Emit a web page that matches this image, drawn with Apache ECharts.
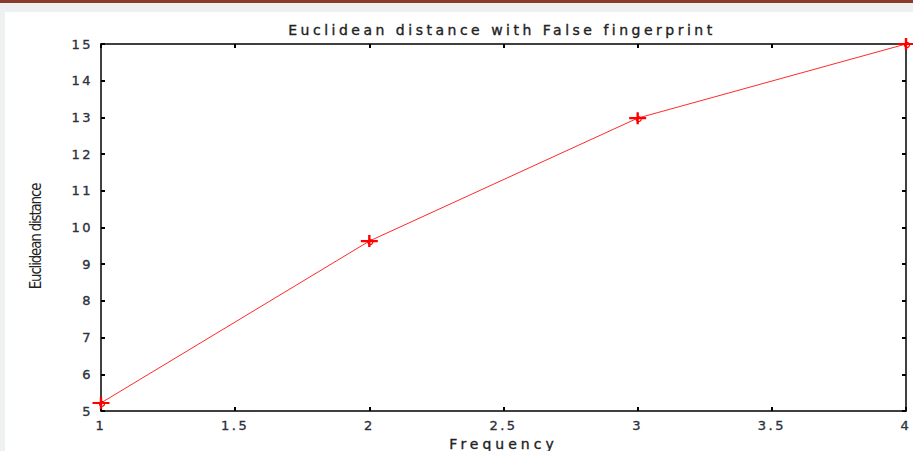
<!DOCTYPE html>
<html>
<head>
<meta charset="utf-8">
<script src="https://cdn.jsdelivr.net/npm/echarts@6/dist/echarts.min.js"></script>
<style>
  html, body { margin: 0; padding: 0; }
  body { width: 913px; height: 451px; background: #eff0f2; position: relative; overflow: hidden; }
  #strip { position: absolute; left: 0; top: 0; width: 913px; height: 3px; background: #8a3b2b; }
  #panel { position: absolute; left: 5px; top: 12px; width: 908px; height: 439px; background: #fff; }
  #chart { position: absolute; left: 0; top: 0; width: 913px; height: 451px; }
</style>
</head>
<body>
<div id="strip"></div>
<div id="panel"></div>
<div id="chart"></div>
<script>
// values
const frequency = [1, 2, 3, 4];
const distance = [5.22, 9.63, 12.98, 15];
const titleText = 'Euclidean distance with False fingerprint';
const xName = 'Frequency';
const yName = 'Euclidean distance';

const points = frequency.map((f, i) => [f, distance[i]]);

const chart = echarts.init(document.getElementById('chart'), null, { renderer: 'svg' });

const sans = 'DejaVu Sans, Liberation Sans, sans-serif';
const tickLabel = { color: '#2d313c', fontSize: 13, fontFamily: sans };
const frame = { show: true, lineStyle: { color: '#000', width: 1.5 } };
const innerTick = { show: true, inside: true, length: 4, lineStyle: { color: '#000', width: 2 } };

const option = {
    backgroundColor: 'transparent',
    animation: false,
    title: {
        text: titleText,
        left: 497,
        textAlign: 'center',
        top: 18,
        textStyle: { color: '#222', fontSize: 14, fontWeight: 'normal', fontFamily: sans }
    },
    grid: { left: 101, right: 7, top: 44, bottom: 40, outerBoundsMode: 'none', containLabel: false },
    xAxis: [
        {
            type: 'value', min: 1, max: 4, interval: 0.5,
            name: xName, nameLocation: 'middle', nameGap: 24,
            nameTextStyle: { color: '#222', fontSize: 14, fontFamily: sans },
            axisLine: frame, axisTick: innerTick, splitLine: { show: false },
            axisLabel: Object.assign({ margin: 8 }, tickLabel)
        },
        {
            type: 'value', position: 'top', min: 1, max: 4, interval: 0.5,
            axisLine: frame, axisTick: innerTick, splitLine: { show: false },
            axisLabel: { show: false }
        }
    ],
    yAxis: [
        {
            type: 'value', min: 5, max: 15, interval: 1,
            name: yName, nameLocation: 'middle', nameGap: 58, nameRotate: 90,
            nameTextStyle: {
                color: '#222', fontSize: 15, padding: [0, 18, 0, 0],
                fontFamily: 'DejaVu Sans Condensed, Liberation Sans, sans-serif'
            },
            axisLabel: Object.assign({ margin: 8 }, tickLabel),
            axisLine: frame, axisTick: innerTick, splitLine: { show: false }
        },
        {
            type: 'value', position: 'right', min: 5, max: 15, interval: 1,
            axisLine: frame, axisTick: innerTick, splitLine: { show: false },
            axisLabel: { show: false }
        }
    ],
    series: [
        {
            type: 'line',
            data: points,
            lineStyle: { color: '#ff2a2a', width: 1 },
            symbol: 'none',
            z: 2
        },
        {
            type: 'scatter',
            data: points,
            symbol: 'path://M0 8.6H20V11.4H0Z M8.6 2H11.4V18H8.6Z',
            symbolSize: [17, 12],
            itemStyle: { color: '#ff0000', opacity: 1 },
            z: 3
        },
        {
            type: 'scatter',
            data: points,
            symbol: 'circle',
            symbolSize: 5,
            symbolOffset: [1, 1],
            itemStyle: { color: 'transparent', borderColor: '#ff0000', borderWidth: 1.2, opacity: 1 },
            z: 4
        }
    ]
};

chart.setOption(option);

// the reference text is stretched sideways: widen horizontal text, tighten the rotated name
document.querySelectorAll('#chart text').forEach(t => {
    const s = t.textContent;
    if (s === yName) {
        t.style.letterSpacing = '-1.2px';
        return;
    }
    t.style.letterSpacing = (s === titleText) ? '3.5px' : (s === xName ? '4px' : '2.5px');
    t.style.stroke = t.getAttribute('fill') || '#222';
    t.style.strokeWidth = '0.35px';
});
</script>
</body>
</html>
